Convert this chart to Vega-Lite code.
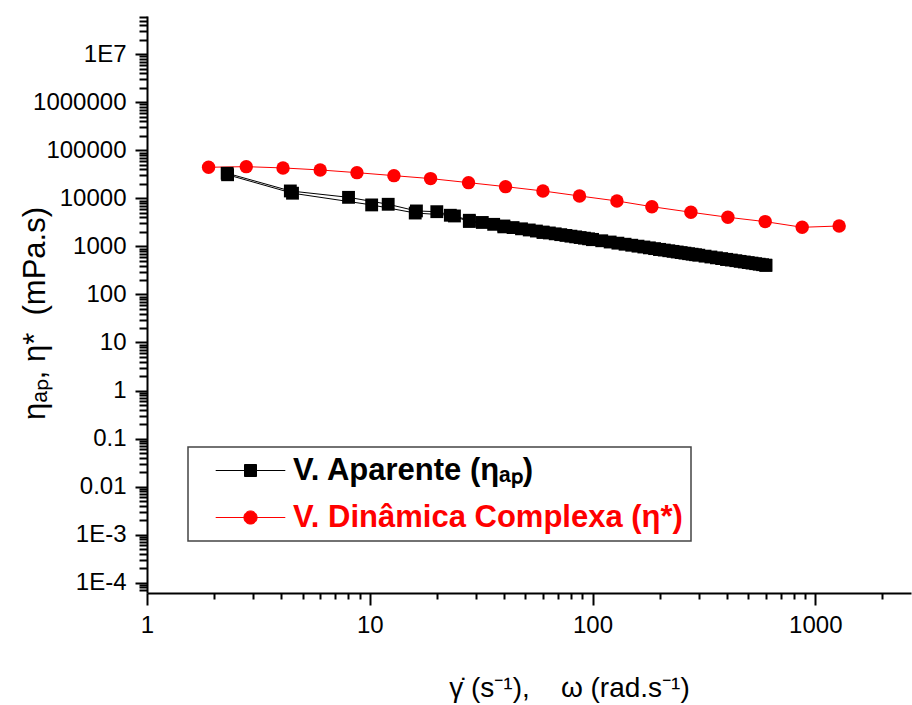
{
  "$schema": "https://vega.github.io/schema/vega-lite/v6.json",
  "width": 764,
  "height": 577,
  "autosize": "none",
  "padding": {"left": 147, "top": 16, "right": 1, "bottom": 112},
  "background": "white",
  "config": {
    "view": {"stroke": null},
    "axis": {
      "grid": false,
      "domainColor": "#000000",
      "domainWidth": 2,
      "tickColor": "#000000",
      "tickWidth": 2,
      "labelColor": "#000000",
      "labelFont": "Liberation Sans",
      "labelFontSize": 24,
      "titleFont": "Liberation Sans",
      "titleFontSize": 26,
      "titleFontWeight": "normal",
      "titleColor": "#000000"
    }
  },
  "data": {
    "values": [
      {"series": "V. Aparente (ηₐₚ)", "pass": "up", "x": 2.29, "y": 33300},
      {"series": "V. Aparente (ηₐₚ)", "pass": "up", "x": 4.40, "y": 14260},
      {"series": "V. Aparente (ηₐₚ)", "pass": "up", "x": 8.03, "y": 10500},
      {"series": "V. Aparente (ηₐₚ)", "pass": "up", "x": 12.1, "y": 7530},
      {"series": "V. Aparente (ηₐₚ)", "pass": "up", "x": 16.2, "y": 5470},
      {"series": "V. Aparente (ηₐₚ)", "pass": "up", "x": 20.0, "y": 5280},
      {"series": "V. Aparente (ηₐₚ)", "pass": "up", "x": 24.0, "y": 4300},
      {"series": "V. Aparente (ηₐₚ)", "pass": "up", "x": 28, "y": 3500},
      {"series": "V. Aparente (ηₐₚ)", "pass": "up", "x": 32, "y": 3150},
      {"series": "V. Aparente (ηₐₚ)", "pass": "up", "x": 36, "y": 2880},
      {"series": "V. Aparente (ηₐₚ)", "pass": "up", "x": 40, "y": 2660},
      {"series": "V. Aparente (ηₐₚ)", "pass": "up", "x": 44, "y": 2466},
      {"series": "V. Aparente (ηₐₚ)", "pass": "up", "x": 48, "y": 2323},
      {"series": "V. Aparente (ηₐₚ)", "pass": "up", "x": 52, "y": 2198},
      {"series": "V. Aparente (ηₐₚ)", "pass": "up", "x": 56, "y": 2088},
      {"series": "V. Aparente (ηₐₚ)", "pass": "up", "x": 60, "y": 1991},
      {"series": "V. Aparente (ηₐₚ)", "pass": "up", "x": 64, "y": 1904},
      {"series": "V. Aparente (ηₐₚ)", "pass": "up", "x": 68, "y": 1826},
      {"series": "V. Aparente (ηₐₚ)", "pass": "up", "x": 72, "y": 1756},
      {"series": "V. Aparente (ηₐₚ)", "pass": "up", "x": 76, "y": 1691},
      {"series": "V. Aparente (ηₐₚ)", "pass": "up", "x": 80, "y": 1633},
      {"series": "V. Aparente (ηₐₚ)", "pass": "up", "x": 84, "y": 1579},
      {"series": "V. Aparente (ηₐₚ)", "pass": "up", "x": 88, "y": 1529},
      {"series": "V. Aparente (ηₐₚ)", "pass": "up", "x": 92, "y": 1483},
      {"series": "V. Aparente (ηₐₚ)", "pass": "up", "x": 96, "y": 1439},
      {"series": "V. Aparente (ηₐₚ)", "pass": "up", "x": 100, "y": 1400},
      {"series": "V. Aparente (ηₐₚ)", "pass": "up", "x": 110, "y": 1310},
      {"series": "V. Aparente (ηₐₚ)", "pass": "up", "x": 120, "y": 1234},
      {"series": "V. Aparente (ηₐₚ)", "pass": "up", "x": 130, "y": 1168},
      {"series": "V. Aparente (ηₐₚ)", "pass": "up", "x": 140, "y": 1110},
      {"series": "V. Aparente (ηₐₚ)", "pass": "up", "x": 150, "y": 1058},
      {"series": "V. Aparente (ηₐₚ)", "pass": "up", "x": 160, "y": 1012},
      {"series": "V. Aparente (ηₐₚ)", "pass": "up", "x": 170, "y": 971},
      {"series": "V. Aparente (ηₐₚ)", "pass": "up", "x": 180, "y": 933},
      {"series": "V. Aparente (ηₐₚ)", "pass": "up", "x": 190, "y": 899},
      {"series": "V. Aparente (ηₐₚ)", "pass": "up", "x": 200, "y": 868},
      {"series": "V. Aparente (ηₐₚ)", "pass": "up", "x": 210, "y": 839},
      {"series": "V. Aparente (ηₐₚ)", "pass": "up", "x": 220, "y": 812},
      {"series": "V. Aparente (ηₐₚ)", "pass": "up", "x": 230, "y": 788},
      {"series": "V. Aparente (ηₐₚ)", "pass": "up", "x": 240, "y": 765},
      {"series": "V. Aparente (ηₐₚ)", "pass": "up", "x": 250, "y": 744},
      {"series": "V. Aparente (ηₐₚ)", "pass": "up", "x": 260, "y": 724},
      {"series": "V. Aparente (ηₐₚ)", "pass": "up", "x": 270, "y": 705},
      {"series": "V. Aparente (ηₐₚ)", "pass": "up", "x": 280, "y": 688},
      {"series": "V. Aparente (ηₐₚ)", "pass": "up", "x": 290, "y": 671},
      {"series": "V. Aparente (ηₐₚ)", "pass": "up", "x": 300, "y": 656},
      {"series": "V. Aparente (ηₐₚ)", "pass": "up", "x": 320, "y": 627},
      {"series": "V. Aparente (ηₐₚ)", "pass": "up", "x": 340, "y": 602},
      {"series": "V. Aparente (ηₐₚ)", "pass": "up", "x": 360, "y": 578},
      {"series": "V. Aparente (ηₐₚ)", "pass": "up", "x": 380, "y": 557},
      {"series": "V. Aparente (ηₐₚ)", "pass": "up", "x": 400, "y": 538},
      {"series": "V. Aparente (ηₐₚ)", "pass": "up", "x": 420, "y": 520},
      {"series": "V. Aparente (ηₐₚ)", "pass": "up", "x": 440, "y": 504},
      {"series": "V. Aparente (ηₐₚ)", "pass": "up", "x": 460, "y": 488},
      {"series": "V. Aparente (ηₐₚ)", "pass": "up", "x": 480, "y": 474},
      {"series": "V. Aparente (ηₐₚ)", "pass": "up", "x": 500, "y": 461},
      {"series": "V. Aparente (ηₐₚ)", "pass": "up", "x": 520, "y": 449},
      {"series": "V. Aparente (ηₐₚ)", "pass": "up", "x": 540, "y": 437},
      {"series": "V. Aparente (ηₐₚ)", "pass": "up", "x": 560, "y": 426},
      {"series": "V. Aparente (ηₐₚ)", "pass": "up", "x": 580, "y": 416},
      {"series": "V. Aparente (ηₐₚ)", "pass": "up", "x": 600, "y": 406},
      {"series": "V. Aparente (ηₐₚ)", "pass": "down", "x": 600, "y": 404},
      {"series": "V. Aparente (ηₐₚ)", "pass": "down", "x": 400, "y": 535},
      {"series": "V. Aparente (ηₐₚ)", "pass": "down", "x": 200, "y": 862},
      {"series": "V. Aparente (ηₐₚ)", "pass": "down", "x": 100, "y": 1380},
      {"series": "V. Aparente (ηₐₚ)", "pass": "down", "x": 60, "y": 1950},
      {"series": "V. Aparente (ηₐₚ)", "pass": "down", "x": 40, "y": 2550},
      {"series": "V. Aparente (ηₐₚ)", "pass": "down", "x": 28, "y": 3300},
      {"series": "V. Aparente (ηₐₚ)", "pass": "down", "x": 23, "y": 4450},
      {"series": "V. Aparente (ηₐₚ)", "pass": "down", "x": 16.0, "y": 4950},
      {"series": "V. Aparente (ηₐₚ)", "pass": "down", "x": 10.2, "y": 7300},
      {"series": "V. Aparente (ηₐₚ)", "pass": "down", "x": 4.5, "y": 12800},
      {"series": "V. Aparente (ηₐₚ)", "pass": "down", "x": 2.3, "y": 31000},
      {"series": "V. Dinâmica Complexa (η*)", "pass": "up", "x": 1.89, "y": 44360},
      {"series": "V. Dinâmica Complexa (η*)", "pass": "up", "x": 2.79, "y": 45700},
      {"series": "V. Dinâmica Complexa (η*)", "pass": "up", "x": 4.08, "y": 42950},
      {"series": "V. Dinâmica Complexa (η*)", "pass": "up", "x": 5.99, "y": 39000},
      {"series": "V. Dinâmica Complexa (η*)", "pass": "up", "x": 8.76, "y": 34270},
      {"series": "V. Dinâmica Complexa (η*)", "pass": "up", "x": 12.84, "y": 29700},
      {"series": "V. Dinâmica Complexa (η*)", "pass": "up", "x": 18.75, "y": 25800},
      {"series": "V. Dinâmica Complexa (η*)", "pass": "up", "x": 27.76, "y": 21230},
      {"series": "V. Dinâmica Complexa (η*)", "pass": "up", "x": 40.7, "y": 17530},
      {"series": "V. Dinâmica Complexa (η*)", "pass": "up", "x": 59.9, "y": 14260},
      {"series": "V. Dinâmica Complexa (η*)", "pass": "up", "x": 87.4, "y": 11210},
      {"series": "V. Dinâmica Complexa (η*)", "pass": "up", "x": 128.7, "y": 8830},
      {"series": "V. Dinâmica Complexa (η*)", "pass": "up", "x": 184.7, "y": 6710},
      {"series": "V. Dinâmica Complexa (η*)", "pass": "up", "x": 276.5, "y": 5140},
      {"series": "V. Dinâmica Complexa (η*)", "pass": "up", "x": 405.3, "y": 4040},
      {"series": "V. Dinâmica Complexa (η*)", "pass": "up", "x": 595.9, "y": 3280},
      {"series": "V. Dinâmica Complexa (η*)", "pass": "up", "x": 873.4, "y": 2500},
      {"series": "V. Dinâmica Complexa (η*)", "pass": "up", "x": 1280, "y": 2660}
    ]
  },
  "encoding": {
    "color": {
      "field": "series", "type": "nominal",
      "scale": {"domain": ["V. Aparente (ηₐₚ)", "V. Dinâmica Complexa (η*)"], "range": ["#000000", "#ff0000"]},
      "legend": {
        "orient": "none",
        "legendX": 41,
        "legendY": 431,
        "title": null,
        "strokeColor": "#444444",
        "fillColor": "#ffffff",
        "padding": 8,
        "symbolSize": 144,
        "symbolOffset": 39,
        "labelOffset": 27,
        "labelFont": "Liberation Sans",
        "labelFontSize": 31,
        "labelFontWeight": "bold",
        "labelLimit": 0,
        "rowPadding": 15,
        "encode": {
          "legend": {"update": {"strokeWidth": {"value": 1.5}}},
          "symbols": {
            "update": {
              "shape": {"signal": "indexof(datum.value, 'Aparente') >= 0 ? 'M-5.8,0H5.8M-1,-1H1V1H-1Z' : 'M-5.8,0H5.8M-1.1,0A1.1,1.1,0,1,0,1.1,0A1.1,1.1,0,1,0,-1.1,0Z'"},
              "fill": {"signal": "indexof(datum.value, 'Aparente') >= 0 ? '#000000' : '#ff0000'"},
              "stroke": {"signal": "indexof(datum.value, 'Aparente') >= 0 ? '#333333' : '#ff0000'"},
              "strokeWidth": {"value": 1},
              "opacity": {"value": 1},
              "fillOpacity": {"value": 1}
            }
          },
          "labels": {
            "update": {
              "fill": {"signal": "indexof(datum.value, 'Aparente') >= 0 ? '#000000' : '#ff0000'"}
            }
          }
        }
      }
    }
  },
  "layer": [
    {
      "mark": {"type": "line", "strokeWidth": 1},
      "encoding": {
        "x": {
          "field": "x", "type": "quantitative",
          "scale": {"type": "log", "domain": [1, 2690], "nice": false},
          "axis": {
            "orient": "bottom",
            "values": [1, 10, 100, 1000],
            "format": "d",
            "tickSize": 12,
            "labelPadding": 8,
            "labelFlush": false,
            "labelOverlap": false,
            "title": "γ̇ (s⁻¹),\u00a0\u00a0\u00a0 ω (rad.s⁻¹)",
            "titleFontSize": 28,
            "titleX": 422,
            "titleY": 95,
            "titleBaseline": "middle",
            "titleAnchor": null
          }
        },
        "y": {
          "field": "y", "type": "quantitative",
          "scale": {"type": "log", "domain": [0.000061, 62500000], "nice": false},
          "axis": {
            "orient": "left",
            "values": [0.0001, 0.001, 0.01, 0.1, 1, 10, 100, 1000, 10000, 100000, 1000000, 10000000],
            "labelExpr": "datum.value >= 9000000 ? '1E7' : datum.value >= 0.9 ? format(datum.value, 'd') : datum.value >= 0.009 ? format(datum.value, '.2~f') : datum.value >= 0.0009 ? '1E-3' : '1E-4'",
            "tickSize": 12,
            "labelPadding": 9,
            "labelFlush": false,
            "labelOverlap": false,
            "title": "ηₐₚ,\u00a0η*\u00a0\u00a0(mPa.s)",
            "titleFontSize": 31,
            "titleAngle": -90,
            "titleX": -112,
            "titleY": 297,
            "titleBaseline": "middle",
            "titleAlign": "center"
          }
        },
        "detail": {"field": "pass", "type": "nominal"}
      }
    },
    {
      "transform": [{"filter": {"field": "series", "equal": "V. Aparente (ηₐₚ)"}}],
      "mark": {"type": "point", "filled": true, "opacity": 1, "size": 165, "shape": "square"},
      "encoding": {
        "x": {
          "field": "x", "type": "quantitative",
          "axis": {
            "orient": "bottom",
            "values": [2, 3, 4, 5, 6, 7, 8, 9, 20, 30, 40, 50, 60, 70, 80, 90, 200, 300, 400, 500, 600, 700, 800, 900, 2000],
            "labels": false,
            "domain": false,
            "tickSize": 6,
            "title": null
          }
        },
        "y": {
          "field": "y", "type": "quantitative",
          "axis": {
            "orient": "left",
            "values": [0.00007, 0.00008, 0.00009, 0.0002, 0.0003, 0.0004, 0.0005, 0.0006, 0.0007, 0.0008, 0.0009, 0.002, 0.003, 0.004, 0.005, 0.006, 0.007, 0.008, 0.009, 0.02, 0.03, 0.04, 0.05, 0.06, 0.07, 0.08, 0.09, 0.2, 0.3, 0.4, 0.5, 0.6, 0.7, 0.8, 0.9, 2, 3, 4, 5, 6, 7, 8, 9, 20, 30, 40, 50, 60, 70, 80, 90, 200, 300, 400, 500, 600, 700, 800, 900, 2000, 3000, 4000, 5000, 6000, 7000, 8000, 9000, 20000, 30000, 40000, 50000, 60000, 70000, 80000, 90000, 200000, 300000, 400000, 500000, 600000, 700000, 800000, 900000, 2000000, 3000000, 4000000, 5000000, 6000000, 7000000, 8000000, 9000000, 20000000, 30000000, 40000000, 50000000, 60000000],
            "labels": false,
            "domain": false,
            "tickSize": 8,
            "title": null
          }
        }
      }
    },
    {
      "transform": [{"filter": {"field": "series", "equal": "V. Dinâmica Complexa (η*)"}}],
      "mark": {"type": "point", "filled": true, "opacity": 1, "size": 180, "shape": "circle"},
      "encoding": {
        "x": {"field": "x", "type": "quantitative", "axis": null},
        "y": {"field": "y", "type": "quantitative", "axis": null}
      }
    }
  ],
  "resolve": {"axis": {"x": "independent", "y": "independent"}}
}
